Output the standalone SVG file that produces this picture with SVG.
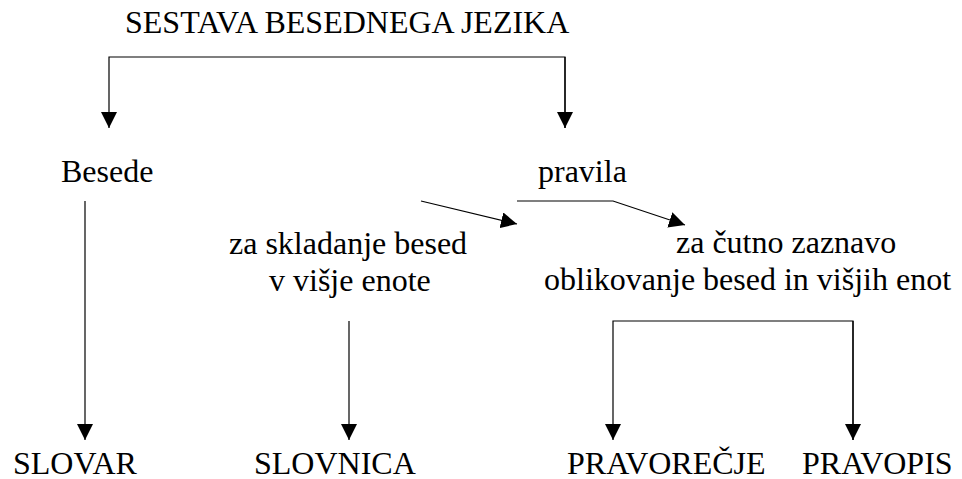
<svg xmlns="http://www.w3.org/2000/svg" width="962" height="479" viewBox="0 0 962 479">
<style>
text{font-family:"Liberation Serif","Times New Roman","DejaVu Serif",serif;font-size:32px;fill:#000}
.c{fill:none;stroke:#000;stroke-width:1.2}
</style>
<defs>
<marker id="ah" markerUnits="userSpaceOnUse" markerWidth="16" markerHeight="16" refX="15" refY="7.5" orient="auto" viewBox="0 0 15 15">
<path d="M0,0 L15,7.5 L0,15 z" fill="#000"/>
</marker>
</defs>
<rect width="962" height="479" fill="#fff"/>
<g id="connectors">
<path class="c" d="M565,128 V57 H109 V128" marker-end="url(#ah)"/>
<path class="c" d="M565,57 V128" marker-end="url(#ah)"/>
<path class="c" d="M85,201 V440" marker-end="url(#ah)"/>
<path class="c" d="M349,321 V440" marker-end="url(#ah)"/>
<path class="c" d="M853,440 V321 H613 V440" marker-end="url(#ah)"/>
<path class="c" d="M853,321 V440" marker-end="url(#ah)"/>
<path class="c" d="M421,201 L517,224" marker-end="url(#ah)"/>
<path class="c" d="M517,201 H613 L685,225" marker-end="url(#ah)"/>
</g>
<g id="title"><text x="125" y="33" font-family="Liberation Serif, serif">SESTAVA BESEDNEGA JEZIKA</text></g>
<g id="besede"><text x="61" y="182" font-family="Liberation Serif, serif">Besede</text></g>
<g id="pravila"><text x="538" y="182" font-family="Liberation Serif, serif">pravila</text></g>
<g id="skladanje"><text x="229" y="254" font-family="Liberation Serif, serif">za skladanje besed</text><text x="269" y="291" font-family="Liberation Serif, serif">v višje enote</text></g>
<g id="zaznavo"><text x="676" y="253" font-family="Liberation Serif, serif">za čutno zaznavo</text><text x="544" y="290" font-family="Liberation Serif, serif">oblikovanje besed in višjih enot</text></g>
<g id="slovar"><text x="13" y="474" font-family="Liberation Serif, serif">SLOVAR</text></g>
<g id="slovnica"><text x="254" y="474" font-family="Liberation Serif, serif">SLOVNICA</text></g>
<g id="pravorecje"><text x="567" y="474" font-family="Liberation Serif, serif">PRAVOREČJE</text></g>
<g id="pravopis"><text x="802" y="474" font-family="Liberation Serif, serif">PRAVOPIS</text></g>
</svg>
